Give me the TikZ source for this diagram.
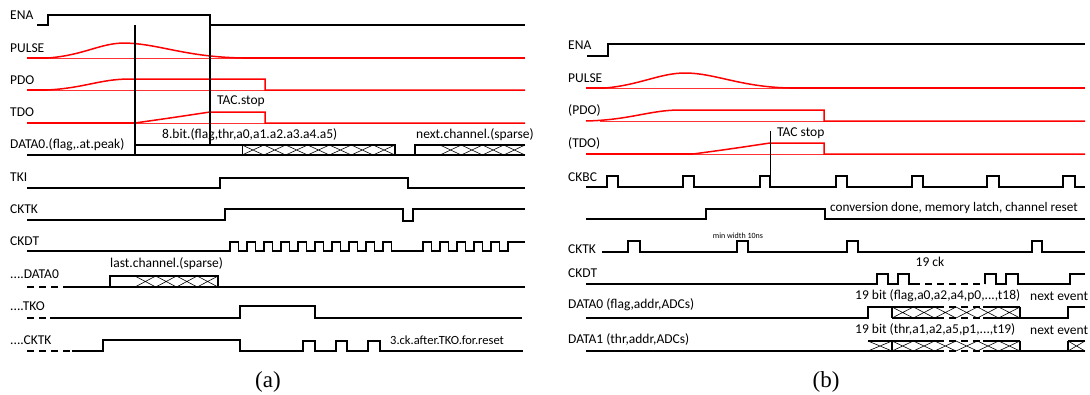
\documentclass[tikz,border=0pt]{standalone}
\usepackage{fontspec}
\setmainfont{Carlito}
\newfontfamily\capfont{Liberation Serif}
\begin{document}
\begin{tikzpicture}[x=1pt,y=-1pt,
  sig/.style={line width=1.6pt,black,line join=miter},
  rsig/.style={line width=1.5pt,red},
  rbase/.style={line width=0.6pt,red!80},
  hatch/.style={line width=0.6pt,black},
  marker/.style={line width=1.3pt,black},
  lbl/.style={anchor=west,inner sep=0pt,font=\fontsize{13.5}{15}\selectfont},
  note/.style={anchor=west,inner sep=0pt,font=\fontsize{13.5}{15}\selectfont},
  captxt/.style={inner sep=0pt,font=\capfont\fontsize{23}{26}\selectfont}]
\useasboundingbox (0,0) rectangle (1090,394);
\newcommand{\xcells}[5]{%
  \pgfmathsetmacro\cw{(#2-#1)/#5}%
  \foreach \i [evaluate=\i as \xa using #1+(\i-1)*\cw, evaluate=\i as \xb using #1+\i*\cw] in {1,...,#5} {
    \draw[hatch] (\xa,#3) -- (\xb,#4) (\xa,#4) -- (\xb,#3);
  }}
% ================= (a) =================
\node[lbl] (aena) at (10,15) {ENA};
\node[lbl] (apulse) at (10,48) {PULSE};
\node[lbl] (apdo) at (10,80) {PDO};
\node[lbl] (atdo) at (10,112) {TDO};
\node[lbl] (adata) at (10,145) {DATA0.(flag,.at.peak)};
\node[lbl] (atki) at (10,177) {TKI};
\node[lbl] (acktk) at (10,209) {CKTK};
\node[lbl] (ackdt) at (10,241) {CKDT};
\node[lbl] (adatal) at (10,274) {....DATA0};
\node[lbl] (atko) at (10,306) {....TKO};
\node[lbl] (acktkl) at (10,340) {....CKTK};
% ENA
\draw[sig] (37,25) -- (48,25) -- (48,15) -- (210,15) -- (210,25) -- (525,25);
% PULSE
\draw[rbase] (48,58) -- (243,58);
\draw[rsig] (27,58) -- (48,58);
\draw[rsig] (48,58) .. controls (85,55) and (100,43) .. (125,43) .. controls (160,44) and (185,57) .. (243,58);
\draw[rsig] (243,58) -- (525,58);
% PDO
\draw[rbase] (47,90) -- (265,90);
\draw[rsig] (27,90) -- (47,90);
\draw[rsig] (47,90) .. controls (85,88) and (100,79) .. (130,79) -- (265,79) -- (265,90) -- (525,90);
% TDO
\draw[rbase] (135,123) -- (265,123);
\draw[rsig] (27,123) -- (135,123);
\draw[rsig] (135,123) .. controls (170,118) .. (210,112) -- (265,112) -- (265,123) -- (525,123);
\node[note] (atac) at (217,101) {TAC.stop};
% DATA0
\draw[sig] (27,155) -- (525,155);
\draw[sig] (135,155) -- (135,145) -- (395,145) -- (395,155);
\draw[hatch] (242,145) -- (242,155);
\xcells{242}{395}{145}{155}{7}
\draw[sig] (415,155) -- (415,145) -- (525,145);
\xcells{440}{525}{145}{155}{4}
\node[note] (a8bit) at (162,135) {8.bit.(flag,thr,a0,a1.a2.a3.a4.a5)};
\node[note] (anext) at (416,135) {next.channel.(sparse)};
% markers
\draw[marker] (135,25) -- (135,155);
\draw[marker] (210,15) -- (210,145);
% TKI
\draw[sig] (27,188) -- (220,188) -- (220,178) -- (408,178) -- (408,188) -- (525,188);
% CKTK
\draw[sig] (27,220) -- (225,220) -- (225,209) -- (403,209) -- (403,221) -- (413,221) -- (413,209) -- (525,209);
% CKDT
\draw[sig] (27,251) -- (230,251)
  \foreach \k in {0,...,9} { -- ({230+17*\k},242) -- ({238.5+17*\k},242) -- ({238.5+17*\k},251) -- ({247+17*\k},251) }
  -- (423,251)
  \foreach \k in {0,...,4} { -- ({423+17*\k},242) -- ({431.5+17*\k},242) -- ({431.5+17*\k},251) -- ({440+17*\k},251) }
  -- (508,242) -- (525,242);
% ....DATA0
\draw[sig,dashed,dash pattern=on 7pt off 5pt] (27,287) -- (68,287);
\draw[sig] (68,287) -- (525,287);
\draw[sig] (110,287) -- (110,276) -- (218,276) -- (218,287);
\xcells{135}{218}{276}{287}{4}
\node[note] (alast) at (110,264) {last.channel.(sparse)};
% ....TKO
\draw[sig,dashed,dash pattern=on 7pt off 5pt] (27,318) -- (50,318);
\draw[sig] (50,318) -- (240,318) -- (240,306) -- (315,306) -- (315,318) -- (522,318);
% ....CKTK
\draw[sig,dashed,dash pattern=on 7pt off 5pt] (27,351) -- (72,351);
\draw[sig] (72,351) -- (103,351) -- (103,340) -- (240,340) -- (240,351) -- (303,351)
  -- (303,341) -- (315,341) -- (315,351) -- (336,351) -- (336,341) -- (347,341) -- (347,351)
  -- (368,351) -- (368,341) -- (380,341) -- (380,351) -- (523,351);
\node[note,font=\fontsize{12.5}{14}\selectfont] (areset) at (390,340) {3.ck.after.TKO.for.reset};
\node[captxt] (capa) at (268,382) {(a)};
% ================= (b) =================
\node[lbl] (bena) at (568,45) {ENA};
\node[lbl] (bpulse) at (568,78) {PULSE};
\node[lbl] (bpdo) at (568,110) {(PDO)};
\node[lbl] (btdo) at (568,143) {(TDO)};
\node[lbl] (bckbc) at (568,177) {CKBC};
\node[lbl] (bcktk) at (568,249) {CKTK};
\node[lbl] (bckdt) at (568,273) {CKDT};
\node[lbl] (bdata0) at (568,305) {DATA0 (flag,addr,ADCs)};
\node[lbl] (bdata1) at (568,339) {DATA1 (thr,addr,ADCs)};
% ENA
\draw[sig] (587,56) -- (608,56) -- (608,44) -- (1085,44);
% PULSE
\draw[rbase] (605,88) -- (790,88);
\draw[rsig] (586,88) -- (605,88);
\draw[rsig] (605,88) .. controls (640,85) and (660,73) .. (685,73) .. controls (715,73) and (740,87) .. (790,88);
\draw[rsig] (790,88) -- (1085,88);
% PDO
\draw[rbase] (600,121) -- (824,121);
\draw[rsig] (586,121) .. controls (630,120) and (650,110) .. (680,110) -- (824,110) -- (824,121) -- (1085,121);
% TDO
\draw[rbase] (693,154) -- (824,154);
\draw[rsig] (586,154) -- (693,154);
\draw[rsig] (693,154) .. controls (730,149) .. (770,143) -- (824,143) -- (824,154) -- (1085,154);
\node[note] (btac) at (777,133) {TAC stop};
\draw[line width=0.8pt] (770,131) -- (770,187);
% CKBC
\draw[sig] (586,187)
  \foreach \a/\b in {607/618,683/694,760/770,836/847,912/923,987/999,1063/1075} { -- (\a,187) -- (\a,176) -- (\b,176) -- (\b,187) }
  -- (1085,187);
% conversion
\draw[sig] (586,219) -- (706,219) -- (706,209) -- (825,209) -- (825,219) -- (1085,219);
\node[note,font=\fontsize{13.2}{15}\selectfont] (bconv) at (830,208) {conversion done, memory latch, channel reset};
% CKTK
\draw[sig] (602,252)
  \foreach \a/\b in {628/640,737/748,847/858,1032/1042} { -- (\a,252) -- (\a,241) -- (\b,241) -- (\b,252) }
  -- (1085,252);
\node[inner sep=0pt,font=\fontsize{8}{9}\selectfont] (bmin) at (738,236) {min width 10ns};
% CKDT
\draw[sig] (586,284) -- (877,284) -- (877,274) -- (888,274) -- (888,284) -- (898,284) -- (898,274) -- (909,274) -- (909,284) -- (913,284);
\draw[sig,dashed,dash pattern=on 7pt off 5pt] (913,284) -- (985,284);
\draw[sig] (985,284) -- (985,274) -- (996,274) -- (996,284) -- (1006,284) -- (1006,274) -- (1018,274) -- (1018,284) -- (1070,284) -- (1070,274) -- (1085,274);
\node[inner sep=0pt,font=\fontsize{13.5}{15}\selectfont] (b19ck) at (930,262) {19 ck};
% DATA0
\draw[sig] (586,318) -- (868,318) -- (868,307) -- (892,307);
\draw[sig] (892,307) -- (937,307) (983,307) -- (1020,307) (892,318) -- (937,318) (983,318) -- (1068,318) -- (1068,307) -- (1085,307);
\draw[sig,dashed,dash pattern=on 7pt off 5pt] (937,307) -- (983,307) (937,318) -- (983,318);
\draw[sig] (892,307) -- (892,318) (1020,307) -- (1020,318);
\xcells{892}{1020}{307}{318}{6}
\node[note] (bbit0) at (855,296) {19 bit (flag,a0,a2,a4,p0,...,t18)};
\node[note] (bnext0) at (1030,296) {next event};
% DATA1
\draw[sig] (586,351) -- (868,351) (868,341) -- (937,341) (983,341) -- (1020,341) (868,351) -- (937,351) (983,351) -- (1068,351) -- (1085,351) (1068,341) -- (1085,341);
\draw[sig,dashed,dash pattern=on 7pt off 5pt] (937,341) -- (983,341) (937,351) -- (983,351);
\draw[sig] (892,341) -- (892,351) (1020,341) -- (1020,351) (1068,341) -- (1068,351);
\xcells{868}{892}{341}{351}{1}
\xcells{892}{1020}{341}{351}{6}
\xcells{1068}{1085}{341}{351}{1}
\node[note] (bbit1) at (855,330) {19 bit (thr,a1,a2,a5,p1,...,t19)};
\node[note] (bnext1) at (1030,330) {next event};
\node[captxt] (capb) at (826,382) {(b)};
\end{tikzpicture}
\end{document}
